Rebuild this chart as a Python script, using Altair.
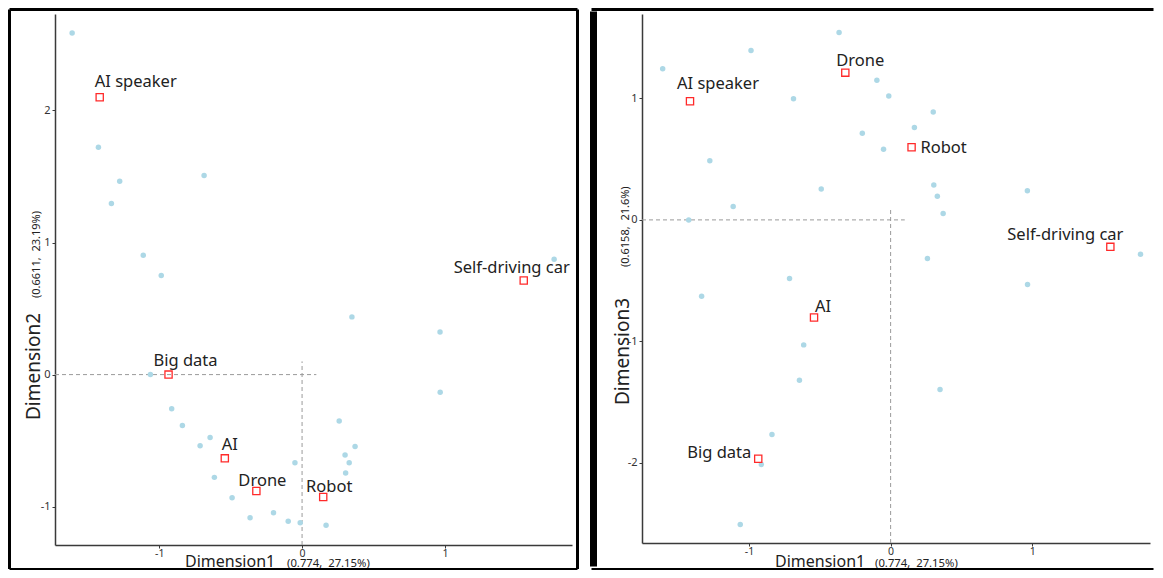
import altair as alt
import pandas as pd

# ---- data ----
dim1 = [-1.61, -1.426, -1.335, -1.277, -1.112, -1.062, -0.986, -0.913, -0.838, -0.714,
        -0.686, -0.644, -0.614, -0.49, -0.364, -0.20, -0.097, -0.05, -0.013, 0.168,
        0.26, 0.301, 0.305, 0.33, 0.349, 0.371, 0.966, 0.967, 1.765]
dim2 = [2.586, 1.722, 1.295, 1.464, 0.904, 0.0, 0.75, -0.258, -0.386, -0.538,
        1.508, -0.477, -0.778, -0.932, -1.083, -1.045, -1.111, -0.667, -1.121, -1.141,
        -0.351, -0.609, -0.745, -0.667, 0.437, -0.545, 0.323, -0.134, 0.874]
dim3 = [1.245, 0.0, -0.628, 0.486, 0.11, -2.508, 1.394, -2.014, -1.767, -0.483,
        0.998, -1.320, -1.029, 0.255, 1.542, 0.713, 1.15, 0.582, 1.02, 0.760,
        -0.318, 0.889, 0.288, 0.195, -1.397, 0.052, 0.239, -0.532, -0.283]

cat_names = ["AI speaker", "Self-driving car", "Big data", "AI", "Drone", "Robot"]
cat_dim1 = [-1.417, 1.552, -0.935, -0.541, -0.32, 0.148]
cat_dim2 = [2.10, 0.712, 0.0, -0.634, -0.881, -0.927]
cat_dim3 = [0.977, -0.222, -1.967, -0.804, 1.212, 0.598]

x_ticks = [-1, 0, 1]
y2_ticks = [-1, 0, 1, 2]
y3_ticks = [-2, -1, 0, 1]
NB = "\u00a0"
x_title = "Dimension1"
x_sub = "(0.774," + NB + " 27.15%)"
y2_title = "Dimension2"
y2_sub = "(0.6611," + NB + " 23.19%)"
y3_title = "Dimension3"
y3_sub = "(0.6158," + NB + " 21.6%)"

pts = pd.DataFrame({"dim1": dim1, "dim2": dim2, "dim3": dim3})
cats = pd.DataFrame({"name": cat_names, "dim1": cat_dim1, "dim2": cat_dim2, "dim3": cat_dim3})
one = pd.DataFrame({"k": [0]})

FONT = "Noto Sans"
TXT = "#222222"


def panel(ycol, xdom, ydom, yticks, w, h, ytitle, ysub, offsets, tpos, frame):
    xs = alt.Scale(domain=xdom, nice=False, zero=False)
    ys = alt.Scale(domain=ydom, nice=False, zero=False)
    xax = alt.Axis(values=x_ticks, title=None, labelExpr="'' + datum.value",
                   labelPadding=0, labelFontSize=10.5)
    yax = alt.Axis(values=yticks, title=None, labelExpr="'' + datum.value")

    dots = alt.Chart(pts).mark_circle(size=30, color="#add8e6", opacity=1).encode(
        x=alt.X("dim1:Q", scale=xs, axis=xax),
        y=alt.Y(f"{ycol}:Q", scale=ys, axis=yax),
    )
    hline = alt.Chart(one).mark_rule(color="#9a9a9a", strokeDash=[4, 3], strokeWidth=1).encode(
        x=alt.datum(xdom[0]), x2=alt.datum(0.1), y=alt.datum(0)
    )
    vline = alt.Chart(one).mark_rule(color="#9a9a9a", strokeDash=[4, 3], strokeWidth=1).encode(
        x=alt.datum(0), y=alt.datum(ydom[0]), y2=alt.datum(0.1)
    )
    squares = alt.Chart(cats).mark_point(shape="square", size=52, color="#ff2a2a",
                                         filled=False, strokeWidth=1.3, opacity=1).encode(
        x="dim1:Q", y=f"{ycol}:Q"
    )
    layers = [hline, vline, dots, squares]
    for name, (dx, dy) in offsets.items():
        layers.append(
            alt.Chart(cats).transform_filter(alt.datum.name == name)
            .mark_text(font=FONT, fontSize=16.5, color=TXT, dx=dx, dy=dy,
                       align="center", baseline="middle")
            .encode(x="dim1:Q", y=f"{ycol}:Q", text="name:N")
        )
    # axis titles
    (xt_x, xs_x, t_base, yt_x, yt_y, ys_y) = tpos
    layers.append(alt.Chart(one).mark_text(font=FONT, fontSize=16, color=TXT, align="left",
                                           baseline="alphabetic", text=x_title)
                  .encode(x=alt.value(xt_x), y=alt.value(t_base)))
    layers.append(alt.Chart(one).mark_text(font=FONT, fontSize=11.3, color=TXT, align="left",
                                           baseline="alphabetic", text=x_sub)
                  .encode(x=alt.value(xs_x), y=alt.value(t_base + 0.5)))
    layers.append(alt.Chart(one).mark_text(font=FONT, fontSize=19, color=TXT, align="left",
                                           baseline="alphabetic", angle=270, text=ytitle)
                  .encode(x=alt.value(yt_x), y=alt.value(yt_y)))
    layers.append(alt.Chart(one).mark_text(font=FONT, fontSize=11, color=TXT, align="left",
                                           baseline="alphabetic", angle=270, text=ysub)
                  .encode(x=alt.value(yt_x), y=alt.value(ys_y)))
    # panel frame
    for (x1, x2, y1, y2, sw) in frame:
        if y1 == y2:
            enc = dict(x=alt.value(x1), x2=alt.value(x2), y=alt.value(y1))
        else:
            enc = dict(x=alt.value(x1), y=alt.value(y1), y2=alt.value(y2))
        layers.append(alt.Chart(one).mark_rule(color="black", strokeWidth=sw).encode(**enc))
    return alt.layer(*layers).properties(width=w, height=h)


left = panel(
    "dim2", [-1.73, 1.89], [-1.29, 2.73], y2_ticks, 517, 531, y2_title, y2_sub,
    {"AI speaker": (36, -15), "Self-driving car": (-12, -13), "Big data": (17, -14),
     "AI": (5, -13), "Drone": (6, -10), "Robot": (6, -10)},
    (130, 232, 552.5, -15, 406, 284),
    [(-45.5, 522.5, -4.5, -4.5, 3), (-45.5, -45.5, -4.5, 555, 3),
     (522.5, 522.5, -4.5, 555, 3), (-45.5, 522.5, 555, 555, 2)],
)
right = panel(
    "dim3", [-1.756, 1.832], [-2.66, 1.695], y3_ticks, 508, 529, y3_title, y3_sub,
    {"AI speaker": (28, -17), "Drone": (15, -12), "Robot": (32, 1),
     "Self-driving car": (-45, -12), "AI": (9, -11), "Big data": (-39, -6)},
    (133, 233, 552.5, -13, 391, 253),
    [(-50.5, 511.5, -4.5, -4.5, 3), (-48.5, -48.5, -2.5, 552.5, 7),
     (-50.5, 511.5, 555, 555, 2)],
)

chart = alt.hconcat(left, right, spacing=11).properties(padding=0).configure_view(
    stroke=None
).configure_axis(
    grid=False, domainColor="#3a3a3a", domainWidth=1.5, tickColor="#3a3a3a", tickSize=3,
    tickWidth=1, labelFont=FONT, labelFontSize=11, labelColor="#333333", labelPadding=2,
)

chart.save("out.html", embed_options={"renderer": "svg", "actions": False})
